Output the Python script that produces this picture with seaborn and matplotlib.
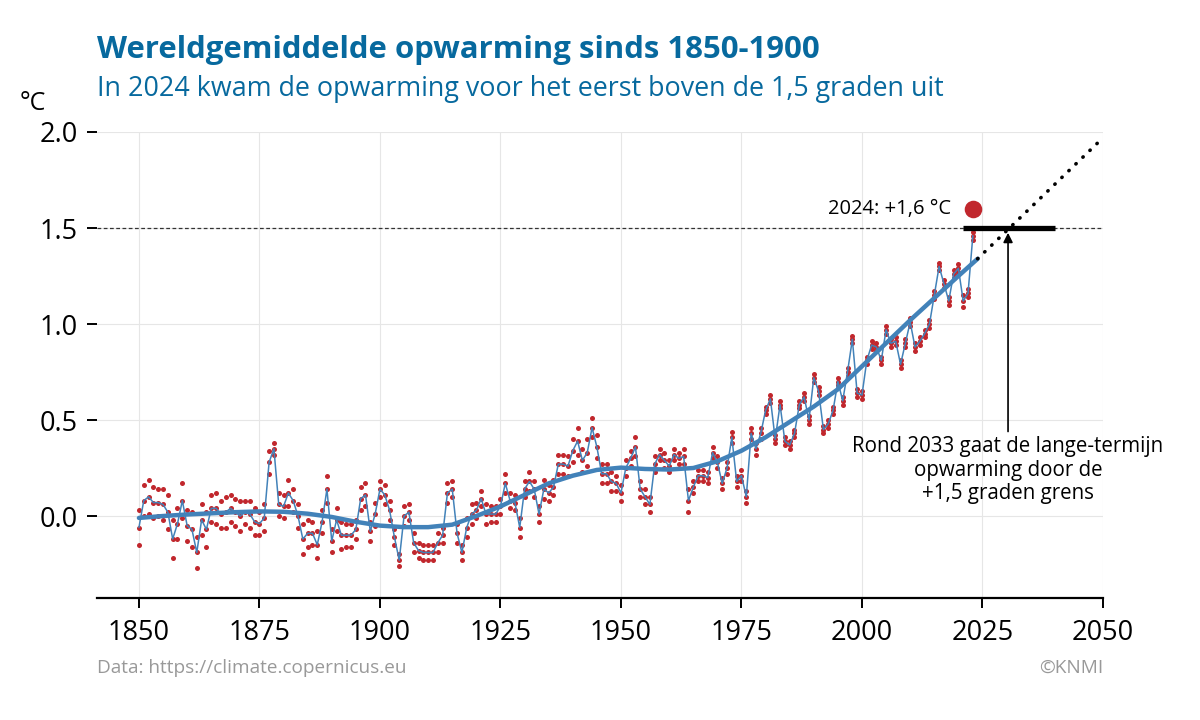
import pandas as pd
import seaborn as sns
import matplotlib.pyplot as plt

years = list(range(1850, 2024))
anom_mean = [
    -0.06, 0.08, 0.10, 0.07, 0.07, 0.06, 0.02, -0.12, -0.04, 0.08,
    -0.05, -0.07, -0.19, -0.02, -0.07, 0.04, 0.04, 0.01, 0.02, 0.04,
    0.02, 0.00, 0.02, 0.01, -0.03, -0.04, -0.01, 0.28, 0.35, 0.06,
    0.05, 0.12, 0.08, 0.00, -0.12, -0.09, -0.09, -0.15, -0.03, 0.14,
    -0.13, -0.02, -0.10, -0.10, -0.10, -0.07, 0.09, 0.11, -0.08, 0.01,
    0.14, 0.11, 0.03, -0.11, -0.23, 0.00, 0.02, -0.14, -0.18, -0.19,
    -0.19, -0.19, -0.14, -0.10, 0.12, 0.14, -0.09, -0.19, -0.06, 0.01,
    0.03, 0.09, 0.01, 0.01, 0.01, 0.05, 0.17, 0.08, 0.07, -0.06,
    0.14, 0.18, 0.14, 0.01, 0.14, 0.12, 0.15, 0.27, 0.27, 0.26,
    0.34, 0.39, 0.29, 0.33, 0.46, 0.36, 0.22, 0.22, 0.18, 0.17,
    0.12, 0.25, 0.30, 0.36, 0.14, 0.10, 0.06, 0.27, 0.32, 0.29,
    0.26, 0.32, 0.30, 0.31, 0.08, 0.15, 0.21, 0.21, 0.20, 0.33,
    0.28, 0.17, 0.25, 0.41, 0.18, 0.21, 0.10, 0.43, 0.35, 0.43,
    0.55, 0.61, 0.40, 0.58, 0.39, 0.37, 0.43, 0.58, 0.62, 0.50,
    0.72, 0.65, 0.45, 0.48, 0.55, 0.70, 0.60, 0.75, 0.92, 0.64,
    0.63, 0.81, 0.89, 0.88, 0.81, 0.97, 0.90, 0.91, 0.79, 0.90,
    1.01, 0.88, 0.91, 0.95, 1.00, 1.15, 1.30, 1.21, 1.12, 1.26,
    1.29, 1.12, 1.16, 1.46,
]
# halve spreiding tussen de datasets per jaar
anom_spread = [
    0.09, 0.08, 0.09, 0.08, 0.07, 0.08, 0.09, 0.10, 0.08, 0.09,
    0.08, 0.09, 0.08, 0.08, 0.09, 0.07, 0.08, 0.07, 0.08, 0.07,
    0.07, 0.08, 0.06, 0.07, 0.07, 0.06, 0.07, 0.06, 0.03, 0.06,
    0.06, 0.07, 0.06, 0.06, 0.08, 0.07, 0.06, 0.07, 0.06, 0.07,
    0.06, 0.06, 0.07, 0.06, 0.06, 0.05, 0.06, 0.06, 0.05, 0.06,
    0.04, 0.05, 0.05, 0.04, 0.03, 0.05, 0.04, 0.05, 0.04, 0.04,
    0.04, 0.04, 0.05, 0.04, 0.05, 0.04, 0.05, 0.04, 0.05, 0.05,
    0.04, 0.04, 0.05, 0.04, 0.04, 0.04, 0.05, 0.04, 0.04, 0.05,
    0.04, 0.05, 0.04, 0.04, 0.05, 0.04, 0.04, 0.05, 0.05, 0.05,
    0.06, 0.07, 0.06, 0.07, 0.05, 0.06, 0.05, 0.05, 0.05, 0.04,
    0.04, 0.04, 0.04, 0.05, 0.04, 0.04, 0.04, 0.04, 0.03, 0.04,
    0.03, 0.03, 0.03, 0.04, 0.06, 0.03, 0.03, 0.03, 0.03, 0.03,
    0.03, 0.03, 0.03, 0.03, 0.03, 0.03, 0.03, 0.03, 0.03, 0.03,
    0.02, 0.02, 0.02, 0.02, 0.02, 0.02, 0.02, 0.02, 0.02, 0.02,
    0.02, 0.02, 0.02, 0.02, 0.02, 0.02, 0.02, 0.02, 0.02, 0.02,
    0.02, 0.02, 0.02, 0.02, 0.02, 0.02, 0.02, 0.02, 0.02, 0.02,
    0.02, 0.02, 0.02, 0.02, 0.02, 0.02, 0.02, 0.02, 0.02, 0.02,
    0.02, 0.03, 0.02, 0.02,
]

# lange-termijn trend en doortrekking
trend_years = [1850, 1855, 1860, 1865, 1870, 1875, 1880, 1885, 1890, 1895,
               1900, 1905, 1910, 1915, 1920, 1925, 1930, 1935, 1940, 1945,
               1950, 1955, 1960, 1965, 1970, 1975, 1980, 1985, 1990, 1995,
               2000, 2005, 2010, 2015, 2020, 2024]
trend_vals = [-0.01, 0.00, 0.008, 0.014, 0.02, 0.024, 0.022, 0.012, -0.005, -0.03,
              -0.05, -0.058, -0.058, -0.045, 0.00, 0.05, 0.11, 0.17, 0.21, 0.24,
              0.252, 0.245, 0.242, 0.25, 0.285, 0.34, 0.41, 0.49, 0.57, 0.66,
              0.78, 0.90, 1.02, 1.135, 1.25, 1.34]
proj_years = [2024, 2050]
proj_vals = [1.34, 1.97]

limit_val = 1.5
limit_years = [2021, 2040]
last_x = 2023
last_val = 1.6

x_ticks = [1850, 1875, 1900, 1925, 1950, 1975, 2000, 2025, 2050]
y_ticks = [0.0, 0.5, 1.0, 1.5, 2.0]

red = '#c1272d'
blue = '#4282b9'
title_blue = '#07699e'

sns.set_theme(style='white')
plt.rcParams['font.family'] = ['Open Sans', 'DejaVu Sans']
plt.rcParams['text.color'] = 'black'

fig = plt.figure(figsize=(12, 7.2), dpi=100)
ax = fig.add_axes([97 / 1200, 122 / 720, 1006 / 1200, 466 / 720])

df = pd.DataFrame({'year': years, 'mean': anom_mean, 'spread': anom_spread})
dots = pd.concat([
    pd.DataFrame({'year': df['year'], 'anom': df['mean'] - df['spread']}),
    pd.DataFrame({'year': df['year'], 'anom': df['mean']}),
    pd.DataFrame({'year': df['year'], 'anom': df['mean'] + df['spread']}),
])

ax.axhline(limit_val, color='#333333', lw=0.9, ls=(0, (3, 2)), zorder=1)
sns.scatterplot(data=dots, x='year', y='anom', color=red, s=13, linewidth=0,
                ax=ax, zorder=2)
sns.lineplot(data=df, x='year', y='mean', color=blue, lw=1.1, ax=ax, zorder=3)
sns.lineplot(x=trend_years, y=trend_vals, color=blue, lw=3.2, ax=ax, zorder=4)
ax.plot(proj_years, proj_vals, color='black', lw=2.6, ls=(0, (0.1, 2.6)),
        dash_capstyle='round', zorder=4)
ax.plot(limit_years, [limit_val, limit_val], color='black', lw=3.8,
        solid_capstyle='butt', zorder=5)
ax.scatter([last_x], [last_val], s=160, color=red, linewidth=0, zorder=6)
ax.text(2018.5, last_val, '2024: +1,6 °C', ha='right', va='center',
        fontsize=14.5, color='black')

ax.annotate('', xy=(2030.3, 1.475), xytext=(2030.3, 0.44),
            arrowprops=dict(arrowstyle='-|>', color='black', lw=1.2,
                            mutation_scale=14, shrinkA=0, shrinkB=0))
ax.text(2030.3, 0.415, 'Rond 2033 gaat de lange-termijn\nopwarming door de\n+1,5 graden grens',
        ha='center', va='top', fontsize=14.8, linespacing=1.15, color='black')

ax.set_xlim(1841.3, 2050)
ax.set_ylim(-0.427, 2.0)
ax.set_xticks(x_ticks)
ax.set_yticks(y_ticks)
ax.set_yticklabels([f'{v:.1f}' for v in y_ticks])
ax.set_xlabel('')
ax.set_ylabel('')
ax.grid(True, color='#e6e6e6', lw=0.8)
ax.set_axisbelow(True)
for side in ['top', 'right', 'left']:
    ax.spines[side].set_visible(False)
ax.spines['bottom'].set_color('black')
ax.spines['bottom'].set_linewidth(1.6)
ax.tick_params(axis='both', left=True, bottom=True, labelsize=19.5, length=7,
               width=1.4, color='black', labelcolor='black', direction='out')
ax.tick_params(axis='y', pad=7)
ax.tick_params(axis='x', pad=8)

fig.text(97 / 1200, 1 - 50 / 720, 'Wereldgemiddelde opwarming sinds 1850-1900',
         fontsize=22.4, weight='bold', color=title_blue, va='center')
fig.text(97 / 1200, 1 - 89 / 720, 'In 2024 kwam de opwarming voor het eerst boven de 1,5 graden uit',
         fontsize=19.4, color=title_blue, va='center')
fig.text(20 / 1200, 1 - 103 / 720, '°C', fontsize=18, va='center', color='black')
fig.text(97 / 1200, 1 - 668 / 720, 'Data: https://climate.copernicus.eu',
         fontsize=13.7, color='#999999', va='center')
fig.text(1103 / 1200, 1 - 668 / 720, '©KNMI', fontsize=13.7, color='#999999',
         va='center', ha='right')

fig.savefig('out.png', dpi=100)
